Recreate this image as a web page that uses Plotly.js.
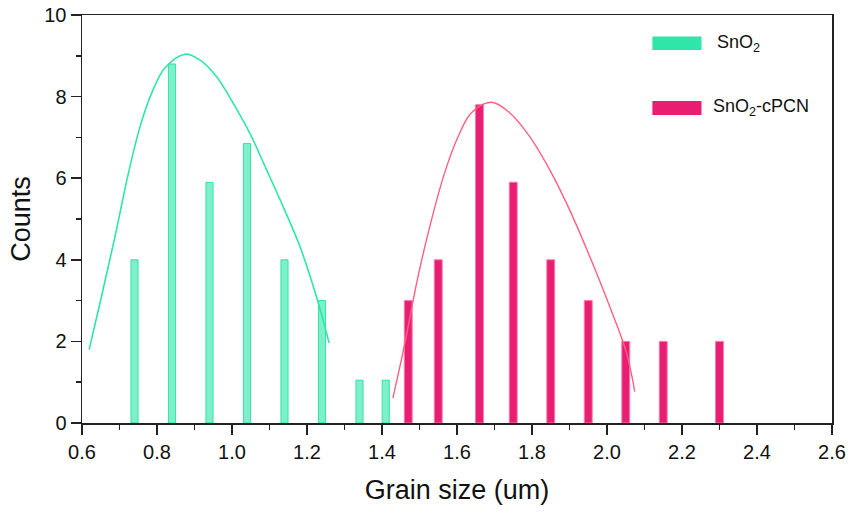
<!DOCTYPE html>
<html>
<head>
<meta charset="utf-8">
<script src="https://cdn.plot.ly/plotly-3.0.1.min.js"></script>
<style>
  html, body { margin: 0; padding: 0; background: #fff; }
  #chart { width: 853px; height: 515px; }
</style>
</head>
<body>
<div id="chart"></div>
<script>
// Grain size histograms (bin centres in um) and counts
const snoX = [0.74, 0.84, 0.94, 1.04, 1.14, 1.24, 1.34, 1.41];
const snoCounts = [4, 8.8, 5.9, 6.85, 4, 3, 1.05, 1.05];

const cpcnX = [1.47, 1.55, 1.66, 1.75, 1.85, 1.95, 2.05, 2.15, 2.30];
const cpcnCounts = [3, 4, 7.8, 5.9, 4, 3, 2, 2, 2];

// Distribution fit curves
const snoFitX = [0.619, 0.652, 0.688, 0.724, 0.755, 0.786, 0.821, 0.875, 0.914, 0.958, 1.003, 1.047, 1.092, 1.136, 1.181, 1.225, 1.259];
const snoFitY = [1.80, 3.10, 4.57, 6.13, 7.27, 8.09, 8.70, 9.04, 8.90, 8.50, 7.84, 7.11, 6.21, 5.31, 4.33, 3.10, 1.96];

const cpcnFitX = [1.429, 1.461, 1.496, 1.532, 1.567, 1.603, 1.638, 1.692, 1.741, 1.794, 1.847, 1.900, 1.954, 2.007, 2.052, 2.074];
const cpcnFitY = [0.61, 1.96, 3.59, 4.98, 6.13, 7.02, 7.60, 7.86, 7.60, 7.02, 6.21, 5.23, 4.08, 2.86, 1.72, 0.77];

const seriesNames = ['SnO<sub>2</sub>', 'SnO<sub>2</sub>-cPCN'];

const green = '#2EE6A8';
const pink = '#E91E72';
const pinkLine = '#FF6080';
const font = 'Liberation Sans, Arial, sans-serif';

const traces = [
  {
    type: 'bar', x: snoX, y: snoCounts, width: snoX.map(() => 0.019),
    name: seriesNames[0], showlegend: false,
    marker: { color: 'rgba(46,230,168,0.62)', line: { color: green, width: 1 } }
  },
  {
    type: 'bar', x: cpcnX, y: cpcnCounts, width: cpcnX.map(() => 0.021),
    name: seriesNames[1], showlegend: false,
    marker: { color: pink, line: { color: '#F47AA8', width: 1 } }
  },
  {
    type: 'scatter', mode: 'lines', x: snoFitX, y: snoFitY, showlegend: false,
    line: { color: green, width: 1.6, shape: 'spline', smoothing: 1 }
  },
  {
    type: 'scatter', mode: 'lines', x: cpcnFitX, y: cpcnFitY, showlegend: false,
    line: { color: pinkLine, width: 1.4, shape: 'spline', smoothing: 1 }
  }
];

const axisCommon = {
  showgrid: false, zeroline: false,
  showline: true, linecolor: '#222', linewidth: 1.5, mirror: true,
  ticks: 'outside', ticklen: 10, tickwidth: 1.5, tickcolor: '#222',
  tickfont: { family: font, size: 20, color: '#111' }
};

const layout = {
  width: 853, height: 515,
  margin: { l: 82, r: 21, t: 15, b: 92 },
  paper_bgcolor: '#fff', plot_bgcolor: '#fff',
  barmode: 'overlay',
  showlegend: false,
  xaxis: Object.assign({}, axisCommon, {
    range: [0.6, 2.6], dtick: 0.2, tick0: 0.6, tickformat: '.1f',
    minor: { dtick: 0.1, ticks: 'outside', ticklen: 5, tickwidth: 1.5, tickcolor: '#222' },
    title: { text: 'Grain size (um)', standoff: 18,
             font: { family: font, size: 27, color: '#111' } }
  }),
  yaxis: Object.assign({}, axisCommon, {
    range: [0, 10], dtick: 2, tick0: 0,
    minor: { dtick: 1, ticks: 'outside', ticklen: 5, tickwidth: 1.5, tickcolor: '#222' },
    title: { text: 'Counts', standoff: 6,
             font: { family: font, size: 27, color: '#111' } }
  }),
  // Legend swatches and labels
  shapes: [
    { type: 'rect', xref: 'paper', yref: 'paper', x0: 0.7605, x1: 0.826, y0: 0.914, y1: 0.947,
      fillcolor: green, line: { width: 0 } },
    { type: 'rect', xref: 'paper', yref: 'paper', x0: 0.7605, x1: 0.826, y0: 0.755, y1: 0.789,
      fillcolor: pink, line: { width: 0 } }
  ],
  annotations: [
    { xref: 'paper', yref: 'paper', x: 0.8435, y: 0.931, xanchor: 'left', yanchor: 'middle',
      showarrow: false, text: seriesNames[0],
      font: { family: font, size: 18, color: '#111' } },
    { xref: 'paper', yref: 'paper', x: 0.838, y: 0.7735, xanchor: 'left', yanchor: 'middle',
      showarrow: false, text: seriesNames[1],
      font: { family: font, size: 18, color: '#111' } }
  ]
};

Plotly.newPlot('chart', traces, layout, { displayModeBar: false, staticPlot: true });
</script>
</body>
</html>
